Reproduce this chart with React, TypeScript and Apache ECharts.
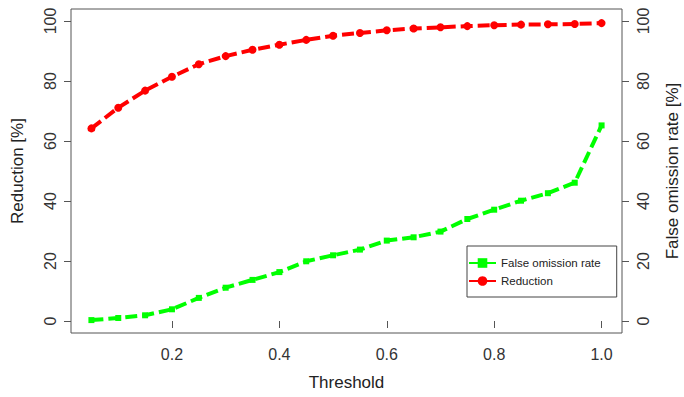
import React, { useEffect, useRef } from "react";
import * as echarts from "echarts";

const thresholds = [0.05, 0.1, 0.15, 0.2, 0.25, 0.3, 0.35, 0.4, 0.45, 0.5, 0.55, 0.6, 0.65, 0.7, 0.75, 0.8, 0.85, 0.9, 0.95, 1.0];
const reduction = [64.2, 71.1, 76.8, 81.4, 85.6, 88.3, 90.4, 92.1, 93.7, 95.1, 96.0, 96.9, 97.5, 97.9, 98.3, 98.6, 98.8, 98.9, 99.0, 99.3];
const falseOmission = [0.3, 1.0, 1.9, 3.9, 7.7, 11.1, 13.7, 16.3, 19.9, 21.9, 23.8, 26.8, 27.9, 29.8, 34.0, 37.1, 40.1, 42.6, 46.1, 65.2];
const xTicks = [0.2, 0.4, 0.6, 0.8, 1.0];
const yTicks = [0, 20, 40, 60, 80, 100];

const FONT = "Liberation Sans, Arial, sans-serif";
const AXIS = "#555";

export default function App() {
  const ref = useRef<HTMLDivElement>(null);
  useEffect(() => {
    if (!ref.current) return;
    const chart = echarts.init(ref.current, null, { renderer: "svg" });
    const yAxisBase = (pos: "left" | "right", name: string, gap: number) => ({
      type: "value",
      position: pos,
      min: -4,
      max: 104,
      name,
      nameLocation: "middle",
      nameRotate: 90,
      nameGap: gap,
      nameTextStyle: { fontFamily: FONT, fontSize: 17, color: "#222" },
      splitLine: { show: false },
      axisLine: { show: false },
      axisTick: { show: true, length: 7, lineStyle: { color: AXIS }, customValues: yTicks },
      axisLabel: {
        rotate: 90,
        margin: 13,
        fontFamily: FONT,
        fontSize: 16,
        color: "#333",
        customValues: yTicks,
      },
    });
    chart.setOption({
      animation: false,
      grid: {
        left: 71,
        right: 62,
        top: 9,
        bottom: 64,
        show: true,
        borderColor: AXIS,
        borderWidth: 1,
        backgroundColor: "transparent",
        outerBoundsMode: "none",
        containLabel: false,
      },
      legend: {
        orient: "vertical",
        left: 467,
        top: 246,
        data: ["False omission rate", "Reduction"],
        itemWidth: 27,
        itemHeight: 12,
        itemGap: 6,
        padding: [11, 16, 10, 1],
        borderColor: "#444",
        borderWidth: 1,
        borderRadius: 0,
        textStyle: { fontFamily: FONT, fontSize: 11.5, color: "#222" },
      },
      xAxis: {
        type: "value",
        min: 0.012,
        max: 1.038,
        name: "Threshold",
        nameLocation: "middle",
        nameGap: 41,
        nameTextStyle: { fontFamily: FONT, fontSize: 17, color: "#222" },
        splitLine: { show: false },
        axisLine: { show: false },
        axisTick: { show: true, length: 7, lineStyle: { color: AXIS }, customValues: xTicks },
        axisLabel: {
          margin: 13,
          fontFamily: FONT,
          fontSize: 16,
          color: "#333",
          customValues: xTicks,
          formatter: (v: number) => v.toFixed(1),
        },
      },
      yAxis: [yAxisBase("left", "Reduction [%]", 45), yAxisBase("right", "False omission rate [%]", 42)],
      series: [
        {
          name: "False omission rate",
          type: "line",
          yAxisIndex: 1,
          data: thresholds.map((t, i) => [t, falseOmission[i]]),
          symbol: "rect",
          symbolSize: 6,
          itemStyle: { color: "#00FF00" },
          lineStyle: { color: "#00FF00", width: 4, type: [12, 5] },
        },
        {
          name: "Reduction",
          type: "line",
          yAxisIndex: 0,
          data: thresholds.map((t, i) => [t, reduction[i]]),
          symbol: "circle",
          symbolSize: 8,
          itemStyle: { color: "#FF0000" },
          lineStyle: { color: "#FF0000", width: 4, type: [12, 5] },
        },
      ],
    });
    return () => chart.dispose();
  }, []);
  return (
    <div
      ref={ref}
      style={{ position: "fixed", left: 0, top: 0, width: 684, height: 397, background: "#fff" }}
    />
  );
}
